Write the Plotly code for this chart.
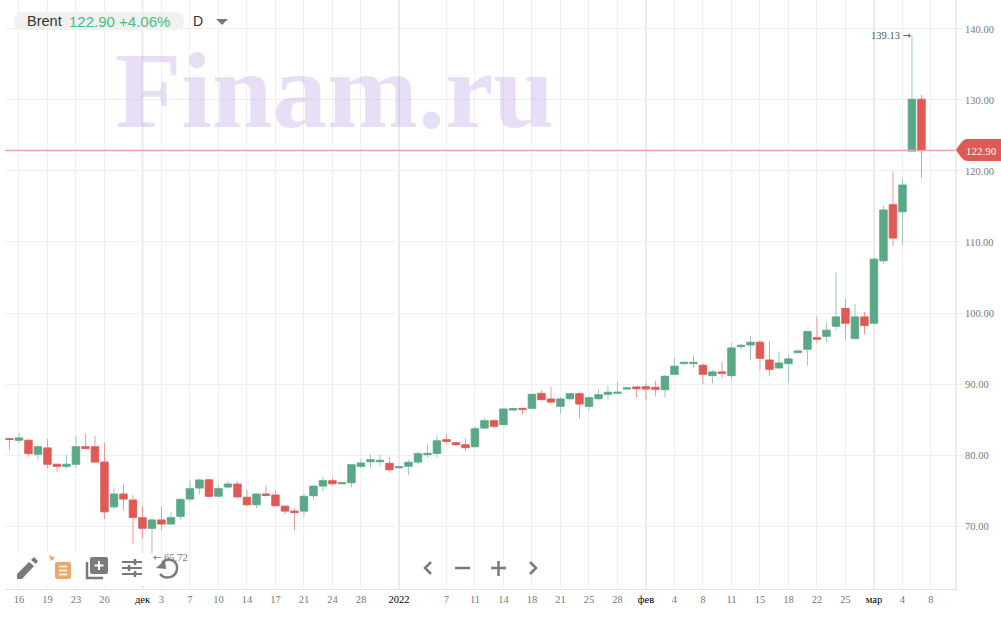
import plotly.graph_objects as go

opens = [82.3,82.07,82.07,80.1,81.0,78.7,78.4,78.7,81.17,81.17,79.0,72.7,74.5,73.66,71.17,69.67,70.85,70.28,71.36,73.8,75.35,76.5,74.2,75.5,75.9,74.05,73.0,74.5,74.37,72.8,72.1,72.1,74.27,75.63,
 76.38,75.96,76.1,78.4,79.06,79.06,78.83,78.2,78.4,79.0,80.05,80.23,82.16,81.74,81.45,81.17,83.8,84.84,84.27,86.34,86.57,86.57,88.68,87.89,86.85,87.93,88.64,86.85,87.93,88.54,88.69,89.3,89.58,89.62,
 89.53,89.2,91.36,92.87,92.87,92.63,91.18,91.7,91.18,95.27,95.5,95.88,93.38,92.26,92.87,94.42,94.9,96.53,96.72,98.13,100.63,96.4,99.45,98.56,107.35,115.25,114.26,122.8,130.1]
highs = [82.35,83.1,82.25,81.45,82.25,78.7,80.05,82.7,83.0,82.7,81.7,75.45,75.9,74.37,72.8,71.0,72.68,71.9,73.9,76.38,76.57,76.6,75.73,76.34,76.34,75.1,74.6,75.63,75.0,72.8,72.5,74.6,75.77,76.95,
 76.85,76.24,78.73,79.48,80.05,80.05,79.72,78.5,79.3,80.5,81.6,82.8,82.9,81.88,82.35,84.04,85.2,85.07,86.53,86.67,86.62,88.64,89.1,89.58,88.17,88.68,88.97,88.3,89.3,89.7,90.33,89.48,89.7,90.1,
 90.47,91.27,93.76,93.2,94.04,92.96,92.02,93.15,95.78,95.64,96.8,96.2,96.06,94.56,94.18,94.9,97.52,99.5,98.65,105.7,102.04,101.28,100.15,107.63,115.1,119.9,118.96,139.13,130.7]
lows = [80.7,81.6,79.77,79.3,78.1,77.65,78.07,78.07,80.85,78.87,71.0,72.4,72.25,67.5,68.26,65.72,69.34,70.23,70.94,73.38,74.46,74.0,74.0,75.35,74.0,72.7,72.5,74.13,72.77,71.64,69.34,71.36,73.66,74.88,
 75.7,75.9,75.45,78.12,78.12,78.4,77.65,78.12,77.18,78.64,79.67,79.67,81.5,81.3,80.56,81.08,83.6,83.76,84.23,86.24,85.68,86.53,87.65,87.23,85.77,87.7,85.16,86.24,87.7,87.8,88.5,89.25,88.08,87.8,
 88.35,88.12,91.3,92.6,92.26,90.0,90.1,90.85,90.5,94.9,93.43,92.07,91.18,92.26,90.2,94.33,92.54,95.74,95.92,97.6,96.1,96.4,97.0,98.5,106.83,109.46,109.6,122.7,119.0]
closes = [82.2,82.4,80.2,81.17,78.7,78.4,78.7,81.17,80.9,79.0,72.0,74.5,73.8,71.2,69.67,70.85,70.28,71.17,73.75,75.26,76.48,74.18,75.26,75.9,74.1,73.0,74.5,74.3,72.86,72.1,71.9,74.18,75.6,76.38,
 75.96,76.1,78.64,78.87,79.34,79.25,77.93,78.36,78.97,80.19,80.23,82.0,81.92,81.45,81.03,83.7,84.84,84.04,86.48,86.53,86.43,88.54,87.8,87.46,87.89,88.64,87.18,88.08,88.5,88.83,88.83,89.44,89.34,89.3,
 89.25,91.08,92.5,93.05,93.05,91.36,91.7,91.5,95.08,95.45,95.88,93.62,92.07,92.96,93.53,94.65,97.38,96.3,97.57,99.45,98.56,99.45,98.23,107.58,114.5,110.55,118.02,130.1,122.9]
candle_index = list(range(len(opens)))

tick_index = [1,4,7,10,14,16,19,22,25,28,31,34,37,41,46,49,52,55,58,61,64,67,70,73,76,79,82,85,88,91,94,97]
tick_names = ["16","19","23","26","дек","3","7","10","14","17","21","24","28","2022","7","11","14","18","21","25","28","фев","4","8","11","15","18","22","25","мар","4","8"]
month_names = ["дек","2022","фев","мар"]
price_ticks = [70,80,90,100,110,120,130,140]
last_price = 122.90
high_mark = (95, 139.13)
low_mark = (15, 65.72)

GREEN, RED = "#5BA886", "#E05A55"
GREEN_W, RED_W = "#9CCAB5", "#EA9996"
GRID = "#EFEFF2"
W, H = 1001, 627
ML, MR, MT, MB = 5, 46, 0, 38

def X(px): return (px - ML) / (W - ML - MR)
def Y(py): return 1 - (py - MT) / (H - MT - MB)
def path(cmds):
    out = []
    for c in cmds:
        if isinstance(c, str): out.append(c)
        else: out.append(f"{X(c[0]):.5f},{Y(c[1]):.5f}")
    return " ".join(out)
def P(cmds, **kw):
    base = dict(type="path", xref="paper", yref="paper", path=path(cmds), layer="above")
    base.update(kw)
    return base
def stroke(cmds, color="#7A7A7A", w=2.5):
    return P(cmds, line=dict(color=color, width=w))
def fill(cmds, color="#7A7A7A"):
    return P(cmds, line=dict(width=0), fillcolor=color)

tops = [max(a, b) for a, b in zip(opens, closes)]
bottoms = [min(a, b) for a, b in zip(opens, closes)]

fig = go.Figure()
fig.add_trace(go.Candlestick(x=candle_index, open=opens, high=highs, low=lows, close=closes,
    increasing=dict(line=dict(color=GREEN_W, width=1), fillcolor="rgba(0,0,0,0)"),
    decreasing=dict(line=dict(color=RED_W, width=1), fillcolor="rgba(0,0,0,0)"),
    whiskerwidth=0, hoverinfo="skip", showlegend=False))
fig.add_trace(go.Candlestick(x=candle_index, open=opens, high=tops, low=bottoms, close=closes,
    increasing=dict(line=dict(color=GREEN, width=0.6), fillcolor=GREEN),
    decreasing=dict(line=dict(color=RED, width=0.6), fillcolor=RED),
    whiskerwidth=0, hoverinfo="skip", showlegend=False))

shapes = []
for name in month_names:
    xv = tick_index[tick_names.index(name)]
    shapes.append(dict(type="line", xref="x", yref="paper", x0=xv, x1=xv, y0=0, y1=1,
                       line=dict(color="#E8E8EC", width=2), layer="below"))
shapes.append(dict(type="line", xref="paper", yref="y", x0=0, x1=1, y0=last_price, y1=last_price,
                   line=dict(color="#E8A3A3", width=1.5), layer="above"))
# price tag
shapes.append(fill(["M",(956,150),"Q",(960,143),(964,140),"Q",(965,139),(968,139),"L",(1001,139),"L",(1001,161),"L",(968,161),"Q",(965,161),(964,160),"Q",(960,157),(956,150),"Z"], RED))
# header pill + dropdown
shapes.append(fill(["M",(22,12),"L",(176,12),"Q",(184,12),(184,21),"Q",(184,30),(176,30),"L",(22,30),"Q",(14,30),(14,21),"Q",(14,12),(22,12),"Z"], "#F1F1F2"))
shapes.append(fill(["M",(216,19),"L",(228,19),"L",(222,25),"Z"], "#777777"))
# toolbar backing
shapes.append(dict(type="rect", xref="paper", yref="paper", x0=X(10), x1=X(186), y0=Y(585), y1=Y(553),
                   fillcolor="rgba(255,255,255,0.85)", line=dict(width=0), layer="above"))
# pencil
shapes.append(fill(["M",(17,574),"L",(17,579),"L",(22,579),"L",(34,566),"L",(29,562),"Z"]))
shapes.append(fill(["M",(31,560),"L",(34,557),"L",(38,561),"L",(36,564),"Z"]))
# orange list
shapes.append(fill(["M",(57,562),"L",(69,562),"Q",(71,562),(71,564),"L",(71,577),"Q",(71,579),(69,579),"L",(57,579),"Q",(55,579),(55,577),"L",(55,564),"Q",(55,562),(57,562),"Z"], "#EDA76E"))
for yy in (566.5, 570.5, 574.5):
    shapes.append(stroke(["M",(59,yy),"L",(67,yy)], "#FFFFFF", 1.6))
shapes.append(fill(["M",(49,555),"L",(55,558),"L",(51,561),"Z"], "#EDA76E"))
# add layer
shapes.append(fill(["M",(92,557),"L",(106,557),"Q",(108,557),(108,559),"L",(108,572),"Q",(108,574),(106,574),"L",(92,574),"Q",(90,574),(90,572),"L",(90,559),"Q",(90,557),(92,557),"Z"]))
shapes.append(stroke(["M",(87,562),"L",(87,578),"L",(103,578)], "#7A7A7A", 2.5))
shapes.append(stroke(["M",(99,561),"L",(99,570),"M",(94.5,565.5),"L",(103.5,565.5)], "#FFFFFF", 2))
# sliders
shapes.append(stroke(["M",(122,562),"L",(142,562),"M",(122,568),"L",(142,568),"M",(122,574),"L",(142,574)], "#7A7A7A", 2))
shapes.append(stroke(["M",(135,559),"L",(135,565),"M",(129,565),"L",(129,571),"M",(135,571),"L",(135,577)], "#7A7A7A", 2.5))
# undo
shapes.append(stroke(["M",(162,563),"C",(168,556),(178,561),(177,569),"C",(176,578),(165,580),(160,574)], "#7A7A7A", 2.4))
shapes.append(fill(["M",(156,568),"L",(165,560),"L",(166,569),"Z"]))
# navigation
shapes.append(stroke(["M",(431,562),"L",(425,568),"L",(431,574)]))
shapes.append(stroke(["M",(455,568),"L",(470,568)]))
shapes.append(stroke(["M",(491,568),"L",(506,568),"M",(498.5,561),"L",(498.5,576)]))
shapes.append(stroke(["M",(530,562),"L",(536,568),"L",(530,574)]))

ARROW = 'font-family:DejaVu Sans;font-size:10px'
annotations = [
    dict(xref="paper", yref="paper", x=X(334), y=Y(90), text="<b>Finam.ru</b>", showarrow=False, xanchor="center", yanchor="middle",
         font=dict(family="Liberation Serif", size=109, color="rgba(170,135,220,0.27)")),
    dict(xref="paper", yref="paper", x=X(25), y=Y(21.5), text="Brent", showarrow=False, xanchor="left", yanchor="middle",
         font=dict(family="Liberation Sans", size=14.5, color="#333333")),
    dict(xref="paper", yref="paper", x=X(67), y=Y(21.5), text="122.90 +4.06%", showarrow=False, xanchor="left", yanchor="middle",
         font=dict(family="Liberation Sans", size=15, color="#3CC47F")),
    dict(xref="paper", yref="paper", x=X(191), y=Y(21.5), text="D", showarrow=False, xanchor="left", yanchor="middle",
         font=dict(family="Liberation Sans", size=14, color="#333333")),
    dict(xref="paper", yref="paper", x=X(981.5), y=Y(150.5), text=f"{last_price:.2f}", showarrow=False, xanchor="center", yanchor="middle",
         font=dict(family="Liberation Serif", size=11, color="#FFFFFF")),
    dict(x=high_mark[0], y=high_mark[1], xref="x", yref="y", text=f'{high_mark[1]:.2f} <span style="{ARROW}">→</span>', showarrow=False, xanchor="right", yanchor="middle",
         xshift=1, font=dict(family="Liberation Serif", size=10.5, color="#555555")),
    dict(x=low_mark[0], y=low_mark[1], xref="x", yref="y", text=f'<span style="{ARROW}">←</span> {low_mark[1]:.2f}', showarrow=False, xanchor="left", yanchor="middle",
         xshift=-1, yshift=-1, font=dict(family="Liberation Serif", size=10.5, color="#777777")),
]

tick_text = [f'<span style="color:#000000">{n}</span>' if n in month_names else n for n in tick_names]

fig.update_layout(
    width=W, height=H, margin=dict(l=ML, r=MR, t=MT, b=MB, pad=0),
    paper_bgcolor="white", plot_bgcolor="white", boxmode="overlay", boxgap=0.22, boxgroupgap=0,
    showlegend=False, dragmode=False, shapes=shapes, annotations=annotations,
    xaxis=dict(range=[-0.47, 99.53], tickmode="array", tickvals=tick_index, ticktext=tick_text,
               rangeslider=dict(visible=False), showgrid=True, gridcolor=GRID, gridwidth=1, zeroline=False,
               showline=True, linecolor="#E2E2E6", linewidth=1, ticks="", tickangle=0,
               tickfont=dict(family="Liberation Serif", size=10.5, color="#777777")),
    yaxis=dict(range=[61.13, 144.08], side="right", tickmode="array", tickvals=price_ticks,
               ticktext=[f"{v:.2f}" for v in price_ticks], showgrid=True, gridcolor=GRID, gridwidth=1, zeroline=False,
               showline=True, linecolor="#EBEBEE", linewidth=2, ticks="outside", ticklen=6, tickcolor=GRID,
               tickfont=dict(family="Liberation Serif", size=10.5, color="#777777")),
)
fig.write_html("out.html", config=dict(displayModeBar=False),
               post_script="document.body.style.margin='0';document.body.style.overflow='hidden';")
